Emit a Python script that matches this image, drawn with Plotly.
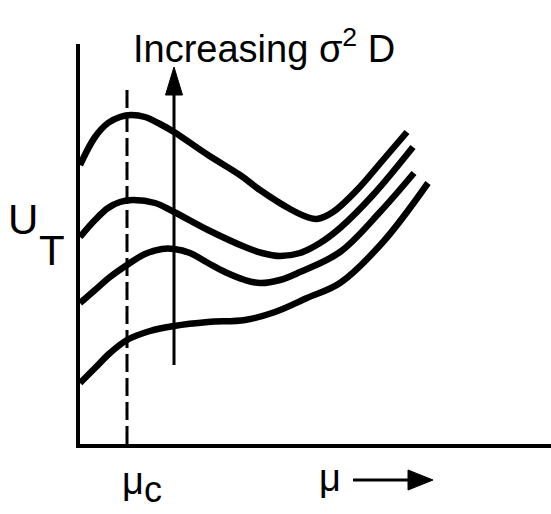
import plotly.graph_objects as go

# ---------------- data (arbitrary units) ----------------
# x: position along the mu axis, y: U_T ; one unit ~ one pixel of the original
curve1_x = [0, 15, 28, 40, 51, 65, 80, 94, 128, 160, 180, 210, 227, 237, 253, 277, 303, 327]
curve1_y = [279, 307, 321, 327, 329, 327, 320, 312, 289, 269, 254, 235, 227, 225, 232, 254, 284, 312]

curve2_x = [0, 15, 28, 40, 53, 75, 94, 128, 165, 182, 200, 220, 240, 260, 293, 333]
curve2_y = [207, 224, 236, 242, 244, 241, 232, 214, 197, 191, 188, 191, 201, 216, 249, 297]

curve3_x = [0, 15, 30, 47, 65, 82, 94, 110, 128, 145, 165, 180, 200, 220, 260, 300, 334]
curve3_y = [141, 154, 167, 179, 190, 195, 195, 191, 181, 172, 164, 161, 164, 172, 192, 232, 271]

curve4_x = [0, 15, 30, 47, 70, 94, 128, 165, 195, 227, 260, 303, 348]
curve4_y = [61, 76, 91, 104, 113, 118, 122, 124, 132, 146, 161, 202, 261]

curves_x = [curve1_x, curve2_x, curve3_x, curve4_x]
curves_y = [curve1_y, curve2_y, curve3_y, curve4_y]

mu_c = 47            # critical mu (dashed line)
mu_c_top = 357       # top of the dashed line
arrow_x = 94         # "Increasing sigma^2 D" arrow position
arrow_y0 = 79
arrow_tip = 377

X_MAX = 471
Y_MAX = 400

# ---------------- style ----------------
FONT = "Liberation Sans, Arial, sans-serif"
INK = "black"
W, H = 551, 514
L, T, B = 80, 44, 70

def px_x(p):   # figure pixel -> paper x
    return (p - L) / X_MAX

def px_y(p):   # figure pixel -> paper y
    return (H - B - p) / Y_MAX

fig = go.Figure()
for cx, cy in zip(curves_x, curves_y):
    fig.add_trace(go.Scatter(
        x=cx, y=cy, mode="lines",
        line=dict(color=INK, width=6.5, shape="spline", smoothing=1.0),
        hoverinfo="skip", showlegend=False))

head_len, head_half = 28, 8.5
shapes = [
    # dashed mu_c line
    dict(type="line", xref="x", yref="y", x0=mu_c, x1=mu_c, y0=0, y1=mu_c_top,
         line=dict(color=INK, width=3, dash="18px,6px")),
    # vertical arrow shaft
    dict(type="line", xref="x", yref="y", x0=arrow_x, x1=arrow_x,
         y0=arrow_y0, y1=arrow_tip - head_len + 2, line=dict(color=INK, width=3)),
    # vertical arrow head
    dict(type="path", xref="x", yref="y",
         path=f"M {arrow_x - head_half},{arrow_tip - head_len} L {arrow_x},{arrow_tip} "
              f"L {arrow_x + head_half},{arrow_tip - head_len} Z",
         fillcolor=INK, line=dict(color=INK, width=1)),
]

# mu arrow below the axis (x in data units, y in paper units)
mu_arrow_x0, mu_arrow_tip = 273, 353
mu_head_len, mu_head_half = 25, 10
mu_y = px_y(480)
shapes += [
    dict(type="line", xref="x", yref="paper", x0=mu_arrow_x0, x1=mu_arrow_tip - mu_head_len + 2,
         y0=mu_y, y1=mu_y, line=dict(color=INK, width=3)),
    dict(type="path", xref="x", yref="paper",
         path=f"M {mu_arrow_tip - mu_head_len},{mu_y + mu_head_half / Y_MAX} L {mu_arrow_tip},{mu_y} "
              f"L {mu_arrow_tip - mu_head_len},{mu_y - mu_head_half / Y_MAX} Z",
         fillcolor=INK, line=dict(color=INK, width=1)),
]

def label(text, x, y, size, xanchor="center"):
    return dict(text=text, xref="paper", yref="paper", x=px_x(x), y=px_y(y),
                xanchor=xanchor, yanchor="middle", showarrow=False,
                font=dict(family=FONT, size=size, color=INK))

annotations = [
    label("Increasing σ<sup>2</sup> D", 131, 46, 38, "left"),
    label("U", 23, 220, 42),
    label("T", 52, 250, 42),
    label('μ<sub><span style="font-size:36px">c</span></sub>', 120, 485, 38, "left"),
    label("μ", 330, 478, 38),
]

axis_common = dict(showgrid=False, zeroline=False, showticklabels=False, ticks="",
                   showline=True, linecolor=INK, linewidth=4, fixedrange=True)
fig.update_layout(
    width=W, height=H,
    margin=dict(l=L, r=0, t=T, b=B, pad=0),
    paper_bgcolor="white", plot_bgcolor="white",
    xaxis=dict(range=[0, X_MAX], **axis_common),
    yaxis=dict(range=[0, Y_MAX], **axis_common),
    shapes=shapes, annotations=annotations,
)

fig.write_html("out.html", config=dict(displayModeBar=False),
               post_script="document.body.style.margin='0';")
